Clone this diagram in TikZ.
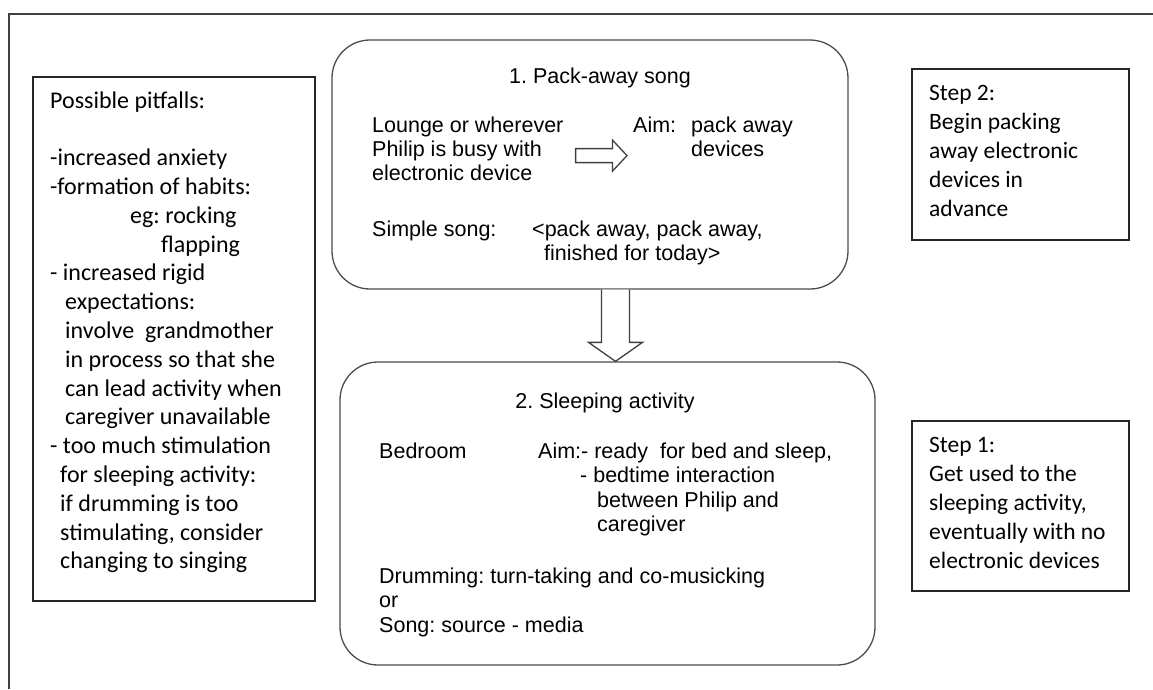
\documentclass[tikz,border=0pt]{standalone}
\usepackage{fontspec}
\setmainfont{Liberation Sans}
\newfontfamily\calibri{Carlito}
\usetikzlibrary{calc}
\frenchspacing

\begin{document}
\begin{tikzpicture}[
    x=1pt, y=-1pt,
    note/.style={rectangle, draw=black!85, line width=1.3pt},
    stage/.style={rectangle, draw=black!70, line width=1.3pt, rounded corners=38pt},
    txt/.style={inner sep=0pt, anchor=base west, align=left, font=\fontsize{21.5}{24.3}\selectfont},
    ctxt/.style={inner sep=0pt, anchor=base west, align=left, font=\calibri\fontsize{24}{28.8}\selectfont},
    hollow/.style={draw=black!75, line width=1.3pt, fill=white, line join=miter}
]
\useasboundingbox (0,0) rectangle (1153,689);

% Frame
\draw[black!75, line width=1.3pt] (9,689) -- (9,14) -- (1153,14);

% Boxes
\node[note, minimum width=282pt, minimum height=524pt] (pitfalls) at (174,339) {};
\node[stage, minimum width=516pt, minimum height=249pt] (pack) at (590,164.5) {};
\node[stage, minimum width=535pt, minimum height=303pt] (sleep) at (607.5,513.5) {};
\node[note, minimum width=217pt, minimum height=171pt] (step2) at (1020.5,154.5) {};
\node[note, minimum width=217pt, minimum height=170pt] (step1) at (1020.5,506) {};

% Left: pitfalls (placed by the last baseline)
\node[ctxt] (pittxt) at (50,568.8) {Possible pitfalls:\\[28.8pt]
-increased anxiety\\
-formation of habits:\\
\hspace*{80pt}eg: rocking\\
\hspace*{111pt}flapping\\
- increased rigid\\
\hspace*{15pt}expectations:\\
\hspace*{15pt}involve\ \ grandmother\\
\hspace*{15pt}in process so that she\\
\hspace*{15pt}can lead activity when\\
\hspace*{15pt}caregiver unavailable\\
- too much stimulation\\
\hspace*{10pt}for sleeping activity:\\
\hspace*{10pt}if drumming is too\\
\hspace*{10pt}stimulating, consider\\
\hspace*{10pt}changing to singing};

% Stage 1
\node[txt, anchor=base] (title1) at (600,83) {1. Pack-away song};
\node[txt] (lounge) at (372,180.6) {Lounge or wherever\\Philip is busy with\\electronic device};
\node[txt] (aim1) at (633,132) {Aim:};
\node[txt] (goal1) at (691,156.3) {pack away\\devices};
\node[txt] (simple) at (372,236) {Simple song:};
\node[txt] (lyrics) at (532,260.3) {<pack away, pack away,\\\hspace*{12pt}finished for today>};

% Stage 2
\node[txt, anchor=base] (title2) at (605,408) {2. Sleeping activity};
\node[txt] (room) at (379,458) {Bedroom};
\node[txt, font=\fontsize{21.5}{24.6}\selectfont] (aim2) at (538,531.8) {Aim:- ready\ \ for bed and sleep,\\
\hspace*{42pt}- bedtime interaction\\
\hspace*{59pt}between Philip and\\
\hspace*{59pt}caregiver};
\node[txt, font=\fontsize{21.5}{24.6}\selectfont] (drum) at (379,632.2) {Drumming: turn-taking and co-musicking\\or\\Song: source - media};

% Steps
\node[ctxt, font=\calibri\fontsize{23.5}{29}\selectfont] (s2txt) at (929,216) {Step 2:\\Begin packing\\away electronic\\devices in\\advance};
\node[ctxt, font=\calibri\fontsize{23.5}{29}\selectfont] (s1txt) at (929,568) {Step 1:\\Get used to the\\sleeping activity,\\eventually with no\\electronic devices};

% Arrows
\coordinate (rs) at ($(lounge.east)+(12,7)$);
\coordinate (rt) at ($(rs -| aim1.west)+(-6,0)$);
\draw[hollow] ($(rs)+(0,-7)$) -- ($(rt)+(-14.5,-7)$) -- ($(rt)+(-14.5,-15.5)$) -- (rt)
    -- ($(rt)+(-14.5,15.5)$) -- ($(rt)+(-14.5,7)$) -- ($(rs)+(0,7)$) -- cycle;

\coordinate (dtop) at ($(pack.south)+(25.5,0)$);
\coordinate (dtip) at (dtop |- sleep.north);
\draw[hollow] ($(dtop)+(-14,0)$) -- ($(dtip)+(-14,-19)$) -- ($(dtip)+(-27,-19)$) -- (dtip)
    -- ($(dtip)+(27,-19)$) -- ($(dtip)+(14,-19)$) -- ($(dtop)+(14,0)$);
\end{tikzpicture}
\end{document}
